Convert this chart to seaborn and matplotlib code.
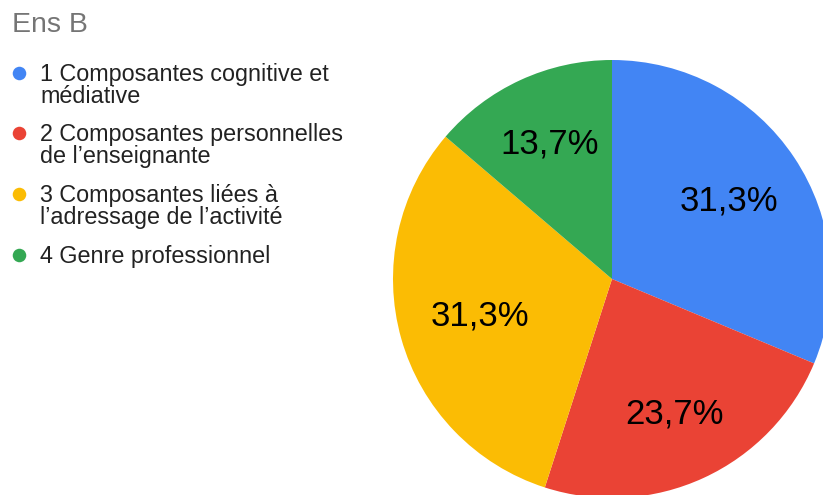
import matplotlib
matplotlib.use("Agg")
import matplotlib.pyplot as plt
import numpy as np
import seaborn as sns

categories = [
    "1 Composantes cognitive et\nmédiative",
    "2 Composantes personnelles\nde l’enseignante",
    "3 Composantes liées à\nl’adressage de l’activité",
    "4 Genre professionnel",
]
counts = [41, 31, 41, 18]
pct_labels = ["31,3%", "23,7%", "31,3%", "13,7%"]
colors = sns.color_palette(["#4285F4", "#EA4335", "#FBBC04", "#34A853"])
title = "Ens B"

sns.set_theme(style="white")
plt.rcParams["font.family"] = ["Liberation Sans", "DejaVu Sans"]

W, H = 823, 495
fig = plt.figure(figsize=(W / 100, H / 100), dpi=100)

# pie: centre (612, 279) px, radius 219 px
cx, cy, r = 612, 279, 219
ax = fig.add_axes([(cx - r) / W, (H - cy - r) / H, 2 * r / W, 2 * r / H])
wedges, _ = ax.pie(counts, colors=colors, startangle=90, counterclock=False,
                   radius=1, wedgeprops=dict(linewidth=0))
for w, lab in zip(wedges, pct_labels):
    ang = np.deg2rad((w.theta1 + w.theta2) / 2)
    # labels sit a bit further out near top/bottom
    d = 0.62 + 0.07 * np.sin(ang) ** 2
    ax.text(d * np.cos(ang), d * np.sin(ang), lab, ha="center", va="center",
            fontsize=25, color="#000000")
ax.set_xlim(-1, 1)
ax.set_ylim(-1, 1)
ax.set_aspect("equal")
ax.axis("off")

# legend drawn on an overlay in pixel coords
lax = fig.add_axes([0, 0, 1, 1])
lax.set_xlim(0, W)
lax.set_ylim(H, 0)
lax.axis("off")
lax.text(12, 25, title, fontsize=20.5, color="#757575", va="center", ha="left")
rows = [73, 133, 194, 255]
for y, lab, c in zip(rows, categories, colors):
    lax.scatter([19], [y], s=95, color=c, linewidths=0)
    for i, line in enumerate(lab.split("\n")):
        lax.text(40, y + 8 + i * 22, line, fontsize=16.8, color="#222222",
                 va="baseline", ha="left")

fig.savefig("out.png", dpi=100)
